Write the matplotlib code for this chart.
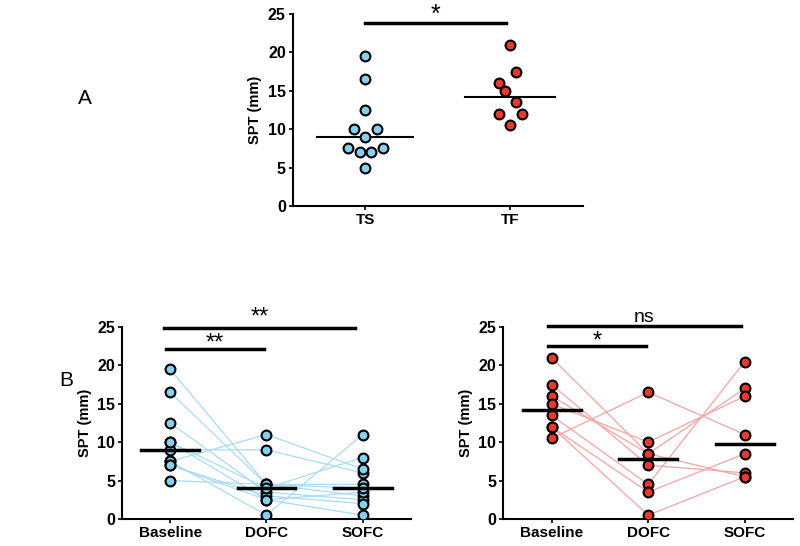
import numpy as np
import matplotlib
matplotlib.use('Agg')
import matplotlib.pyplot as plt

plt.rcParams['font.family'] = ['Liberation Sans', 'DejaVu Sans']

# panel A: single values
ts_vals = [19.5, 16.5, 12.5, 10, 10, 9, 7.5, 7.5, 7, 7, 5]
ts_jit = [0, 0, 0, -0.08, 0.08, 0, -0.12, 0.12, -0.04, 0.04, 0]
tf_vals = [21, 17.5, 16, 15, 13.5, 12, 12, 10.5]
tf_jit = [0, 0.04, -0.08, -0.04, 0.04, -0.08, 0.08, 0]

# panel B: paired values (baseline, DOFC, SOFC)
conds = ['Baseline', 'DOFC', 'SOFC']
ts_base = [19.5, 16.5, 12.5, 10, 9, 7.5, 7.5, 7, 7, 5, 10]
ts_dofc = [4.5, 4.5, 3.5, 2.5, 9, 11, 0.5, 3, 2.5, 4.5, 4.0]
ts_sofc = [4.5, 3.0, 2.5, 0.5, 6, 6.5, 11, 2, 3.5, 4, 8]
tf_base = [21, 17.5, 16, 15, 13.5, 12, 12, 10.5]
tf_dofc = [8.5, 7, 8.5, 10, 4.5, 3.5, 0.5, 16.5]
tf_sofc = [17, 6, 5.5, 16, 20.5, 8.5, 5.5, 11]

blue = '#86cff0'
red = '#e63a2c'
blue_ln = '#a9dcf4'
red_ln = '#f5a3a3'

fig = plt.figure(figsize=(8, 5.46), dpi=100)


def style(ax):
    ax.spines['top'].set_visible(False)
    ax.spines['right'].set_visible(False)
    ax.spines['left'].set_linewidth(1.5)
    ax.spines['bottom'].set_linewidth(1.5)
    ax.set_ylim(0, 25)
    ax.set_yticks([0, 5, 10, 15, 20, 25])
    ax.tick_params(axis='both', width=1.2, length=3, pad=2)
    ax.tick_params(axis='y', labelsize=11.5)
    ax.tick_params(axis='x', labelsize=11)
    for lab in ax.get_xticklabels() + ax.get_yticklabels():
        lab.set_fontweight('bold')
    ax.set_ylabel('SPT (mm)', fontsize=10.5, fontweight='bold', labelpad=4)


def sig(ax, x0, x1, y, txt, ty, fs=17):
    ax.plot([x0, x1], [y, y], color='black', lw=2.5, clip_on=False)
    ax.text((x0 + x1) / 2, ty, txt, ha='center', va='center', fontsize=fs,
            clip_on=False)


# ---- panel A ----
axA = fig.add_axes([0.366, 0.6227, 0.3625, 0.3516])
axA.scatter(np.array(ts_jit) + 0, ts_vals, s=50, color=blue,
            edgecolors='black', linewidths=1.5, zorder=3)
axA.scatter(np.array(tf_jit) + 1, tf_vals, s=50, color=red,
            edgecolors='black', linewidths=1.5, zorder=3)
axA.plot([-0.33, 0.33], [np.median(ts_vals)] * 2, color='black', lw=1.5)
axA.plot([0.69, 1.31], [np.median(tf_vals)] * 2, color='black', lw=1.5)
axA.set_xlim(-0.5, 1.5)
axA.set_xticks([0, 1])
axA.set_xticklabels(['TS', 'TF'])
style(axA)
sig(axA, 0.0, 0.97, 23.8, '*', 24.9, fs=18)


# ---- panel B ----
def paired(ax, data, pt, ln):
    arr = np.array(data)
    xs = np.arange(len(conds))
    for row in arr.T:
        ax.plot(xs, row, color=ln, lw=0.9, zorder=1)
    for i in xs:
        ax.scatter([i] * arr.shape[1], arr[i], s=50, color=pt,
                   edgecolors='black', linewidths=1.5, zorder=3)
        ax.plot([i - 0.3, i + 0.3], [np.median(arr[i])] * 2,
                color='black', lw=2.5, zorder=4)
    ax.set_xlim(-0.5, 2.5)
    ax.set_xticks(xs)
    ax.set_xticklabels(conds)
    style(ax)


axB1 = fig.add_axes([0.1525, 0.0495, 0.361, 0.3516])
paired(axB1, [ts_base, ts_dofc, ts_sofc], blue, blue_ln)
sig(axB1, -0.04, 0.97, 22.1, '**', 22.9)
sig(axB1, -0.06, 1.92, 24.9, '**', 26.2)

axB2 = fig.add_axes([0.629, 0.0495, 0.3625, 0.3516])
paired(axB2, [tf_base, tf_dofc, tf_sofc], red, red_ln)
sig(axB2, -0.04, 0.98, 22.5, '*', 23.1)
sig(axB2, -0.04, 1.96, 25.1, 'ns', 26.2, fs=14)

fig.text(85 / 800, 1 - 99 / 546, 'A', fontsize=15, ha='center', va='center')
fig.text(66 / 800, 1 - 381 / 546, 'B', fontsize=15, ha='center', va='center')

fig.savefig('out.png', dpi=100)
